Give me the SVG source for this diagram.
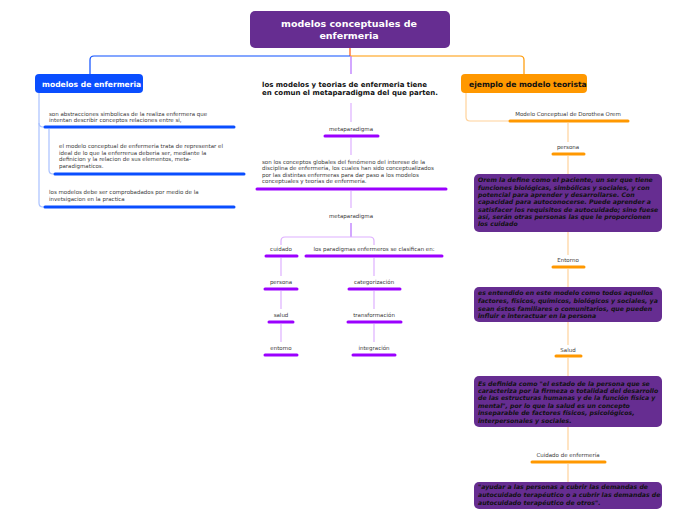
<svg xmlns="http://www.w3.org/2000/svg" width="696" height="520" viewBox="0 0 696 520">
<style>
.t{font-family:"DejaVu Sans",Verdana,sans-serif;font-size:5.5px;fill:#3a3a3a}
.c{text-anchor:middle}
.b{font-family:"DejaVu Sans",Verdana,sans-serif;font-weight:bold;font-style:italic;font-size:6.2px;fill:#111}
.hb{font-family:"DejaVu Sans",Verdana,sans-serif;font-weight:bold}
.ub{stroke:#0a4eff;stroke-width:3;stroke-linecap:round;fill:none}
.up{stroke:#9b00ff;stroke-width:3;stroke-linecap:round;fill:none}
.uo{stroke:#ff9800;stroke-width:3;stroke-linecap:round;fill:none}
.lb{stroke:#a9c1ff;stroke-width:1.2;fill:none}
.lp{stroke:#deb0ff;stroke-width:1.2;fill:none}
.lo{stroke:#ffd29a;stroke-width:1.2;fill:none}
.box{fill:#662d91}
</style>
<g id="connectors">
<path d="M350 48 V56" stroke="#ff7a3c" stroke-width="1.5" fill="none"/>
<path d="M350 56 H94 Q90 56 90 60 V74" stroke="#0a4eff" stroke-width="1.2" fill="none"/>
<path d="M350 56 H520 Q524 56 524 60 V74" stroke="#ff9800" stroke-width="1.2" fill="none"/>
<path d="M351 56 V74" stroke="#b66dff" stroke-width="1.2" fill="none"/>
<path class="lb" d="M39 93 V123 Q39 127 43 127 H46"/>
<path class="lb" d="M39 123 V203 Q39 207 43 207 H46"/>
<path class="lb" d="M49 129 V170 Q49 174 53 174 H56"/>
<path class="lp" d="M351 103 V122"/>
<path class="lp" d="M351 138 V155"/>
<path class="lp" d="M351 191 V208"/>
<path d="M351 223 V237" stroke="#b66dff" stroke-width="1.2" fill="none"/>
<path class="lp" d="M281 245 V241 Q281 237 285 237 H370 Q374 237 374 241 V245"/>
<path class="lp" d="M281 258 V276"/>
<path class="lp" d="M281 291 V309"/>
<path class="lp" d="M281 324 V342"/>
<path class="lp" d="M374 258 V276"/>
<path class="lp" d="M374 291 V309"/>
<path class="lp" d="M374 324 V342"/>
<path class="lo" d="M466 93 V117 Q466 121 470 121 H512"/>
<path class="lo" d="M568 123 V142"/>
<path class="lo" d="M568 156 V174"/>
<path class="lo" d="M568 232 V255"/>
<path class="lo" d="M568 269 V287"/>
<path class="lo" d="M568 322 V345"/>
<path class="lo" d="M568 358 V376"/>
<path class="lo" d="M568 427 V450"/>
<path class="lo" d="M568 464 V482"/>
</g>
<g id="title">
<rect x="250" y="11" width="200" height="37" rx="5" class="box"/>
<text class="hb c" x="349" y="27" font-size="9.5" fill="#fff">modelos conceptuales de</text>
<text class="hb c" x="349" y="39" font-size="9.5" fill="#fff">enfermeria</text>
</g>
<g id="modelos">
<rect x="35" y="74" width="108" height="19" rx="4" fill="#0a4eff"/>
<text class="hb" x="42" y="86.5" font-size="7.6" fill="#fff">modelos de enfermeria</text>
</g>
<g id="abstracciones">
<text class="t" x="49" y="116">son abstracciones simbolicas de la realiza enfermera que</text>
<text class="t" x="49" y="122">intentan describir conceptos  relaciones entre si,</text>
<path class="ub" d="M45 127 H234"/>
</g>
<g id="modelo-conceptual">
<text class="t" x="59" y="148">el modelo conceptual de enfermeria trata de representar el</text>
<text class="t" x="59" y="154.5">ideal de lo que la enferrerua deberia ser, mediante la</text>
<text class="t" x="59" y="161">definicion y la relacion de sus elementos, meta-</text>
<text class="t" x="59" y="167.5">paradigmaticos.</text>
<path class="ub" d="M55 174 H244"/>
</g>
<g id="comprobados">
<text class="t" x="49" y="194">los modelos debe ser comprobadados por medio de la</text>
<text class="t" x="49" y="200.5">invetsigacion en la practica</text>
<path class="ub" d="M45 207 H234"/>
</g>
<g id="metaparadigma-intro">
<text class="hb" x="262" y="87" font-size="7" fill="#111">los modelos y teorias de enfermeria tiene</text>
<text class="hb" x="262" y="95" font-size="7" fill="#111">en comun el metaparadigma del que parten.</text>
</g>
<g id="metaparadigma1">
<text class="t c" x="351" y="131">metaparadigma</text>
<path class="up" d="M325 136 H378"/>
</g>
<g id="conceptos">
<text class="t" x="262" y="163.5">son los conceptos globales del fenómeno del interese de la</text>
<text class="t" x="262" y="170">disciplina de enfermería, los cuales han sido conceptualizados</text>
<text class="t" x="262" y="176.5">por las distintas enfermeras para dar paso a los modelos</text>
<text class="t" x="262" y="183">conceptuales y teorías de enfermería.</text>
<path class="up" d="M257 189 H446"/>
</g>
<g id="metaparadigma2">
<text class="t c" x="351" y="218" font-size="5.9">metaparadigma</text>
</g>
<g id="cuidado"><text class="t c" x="281" y="251">cuidado</text><path class="up" d="M266 256 H297"/></g>
<g id="persona"><text class="t c" x="281" y="284">persona</text><path class="up" d="M265 289 H297"/></g>
<g id="salud"><text class="t c" x="281" y="317">salud</text><path class="up" d="M269 322 H293"/></g>
<g id="entorno"><text class="t c" x="281" y="350">entorno</text><path class="up" d="M265 355 H297"/></g>
<g id="paradigmas"><text class="t c" x="374" y="251">los paradigmas enfermeros se clasifican en:</text><path class="up" d="M306 256 H442"/></g>
<g id="categorizacion"><text class="t c" x="374" y="284">categorización</text><path class="up" d="M349 289 H400"/></g>
<g id="transformacion"><text class="t c" x="374" y="317">transformación</text><path class="up" d="M348 322 H401"/></g>
<g id="integracion"><text class="t c" x="374" y="350">integración</text><path class="up" d="M353 355 H395"/></g>
<g id="ejemplo">
<rect x="461" y="74" width="126" height="19" rx="4" fill="#ff9800"/>
<text class="hb" x="469" y="86.5" font-size="7.6" fill="#111">ejemplo de modelo teorista</text>
</g>
<g id="orem"><text class="t c" x="568" y="116">Modelo Conceptual de Dorothea Orem</text><path class="uo" d="M510 121 H628"/></g>
<g id="r-persona"><text class="t c" x="568" y="149">persona</text><path class="uo" d="M553 154 H584"/></g>
<g id="persona-def">
<rect x="474" y="174" width="188" height="58" rx="5" class="box"/>
<text class="b" x="478" y="182">Orem la define como el paciente, un ser que tiene</text>
<text class="b" x="478" y="189.5">funciones biológicas, simbólicas y sociales, y con</text>
<text class="b" x="478" y="197">potencial para aprender y desarrollarse. Con</text>
<text class="b" x="478" y="204">capacidad para autoconocerse. Puede aprender a</text>
<text class="b" x="478" y="211.5">satisfacer los requisitos de autocuidado; sino fuese</text>
<text class="b" x="478" y="218.5">así, serán otras personas las que le proporcionen</text>
<text class="b" x="478" y="226">los cuidado</text>
</g>
<g id="r-entorno"><text class="t c" x="568" y="262">Entorno</text><path class="uo" d="M553 267 H584"/></g>
<g id="entorno-def">
<rect x="474" y="287" width="188" height="35" rx="5" class="box"/>
<text class="b" x="478" y="295">es entendido en este modelo como todos aquellos</text>
<text class="b" x="478" y="303">factores, físicos, químicos, biológicos y sociales, ya</text>
<text class="b" x="478" y="310.5">sean éstos familiares o comunitarios, que pueden</text>
<text class="b" x="478" y="318">influir e interactuar en la persona</text>
</g>
<g id="r-salud"><text class="t c" x="568" y="352">Salud</text><path class="uo" d="M556 356 H581"/></g>
<g id="salud-def">
<rect x="474" y="376" width="188" height="51" rx="5" class="box"/>
<text class="b" x="478" y="385.5">Es definida como "el estado de la persona que se</text>
<text class="b" x="478" y="393">caracteriza por la firmeza o totalidad del desarrollo</text>
<text class="b" x="478" y="400">de las estructuras humanas y de la función física y</text>
<text class="b" x="478" y="407.5">mental", por lo que la salud es un concepto</text>
<text class="b" x="478" y="415">inseparable de factores físicos, psicológicos,</text>
<text class="b" x="478" y="423">interpersonales y sociales.</text>
</g>
<g id="r-cuidado"><text class="t c" x="568" y="457">Cuidado de enfermería</text><path class="uo" d="M532 462 H605"/></g>
<g id="cuidado-def">
<rect x="474" y="482" width="188" height="27" rx="5" class="box"/>
<text class="b" x="478" y="489">"ayudar a las personas a cubrir las demandas de</text>
<text class="b" x="478" y="497">autocuidado terapéutico o a cubrir las demandas de</text>
<text class="b" x="478" y="505">autocuidado terapéutico de otros".</text>
</g>
</svg>
